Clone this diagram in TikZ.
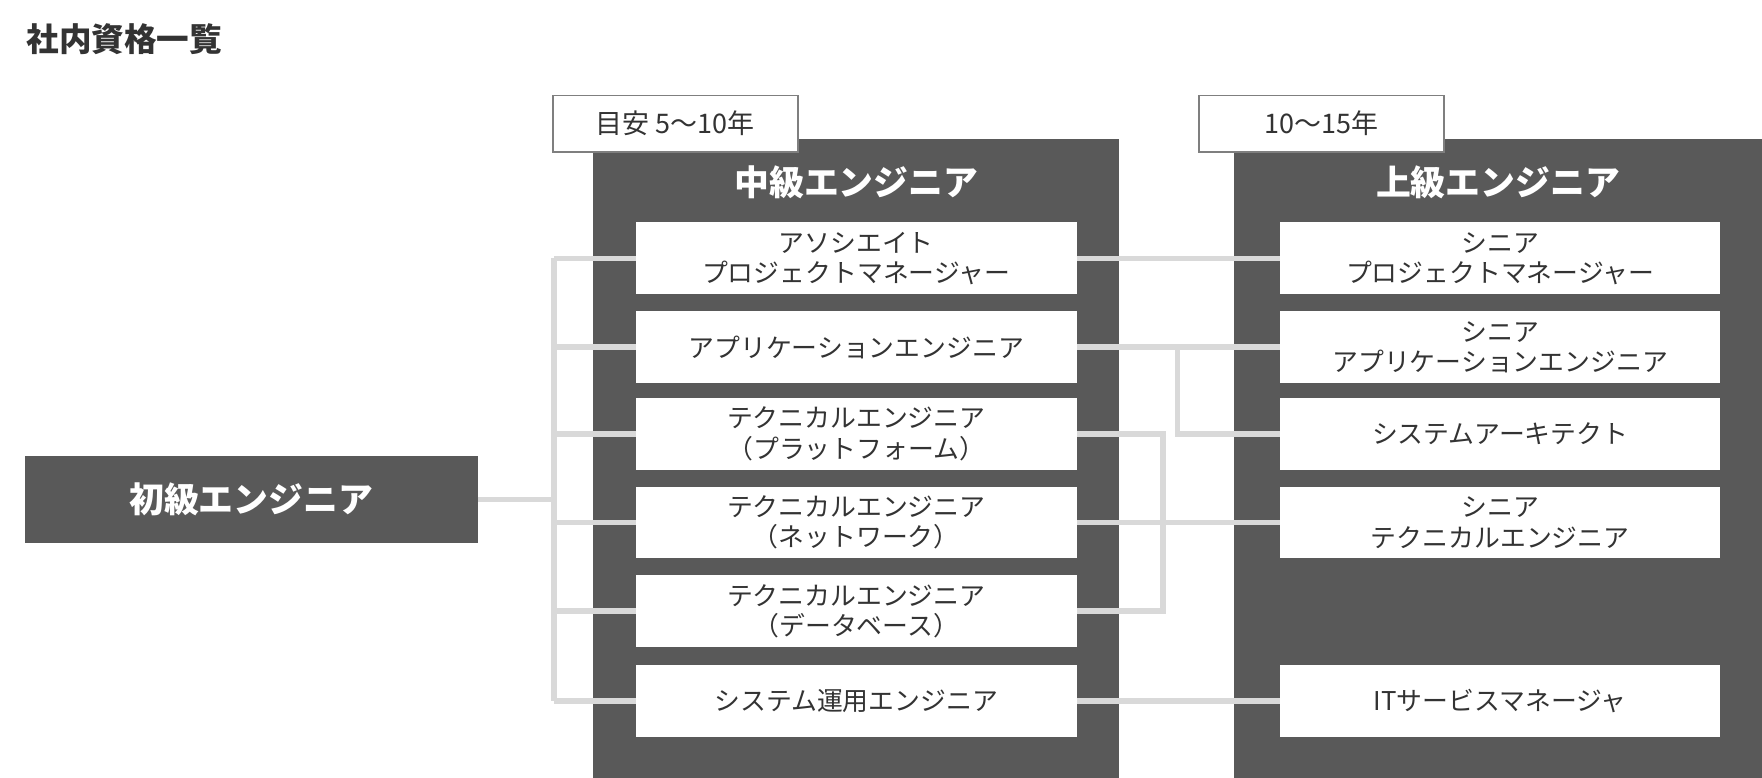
\documentclass[tikz,border=0pt]{standalone}
\usepackage{fontspec}
\setmainfont{Noto Sans CJK JP}
\usetikzlibrary{positioning,calc}
\definecolor{panelgray}{HTML}{595959}
\definecolor{textgray}{HTML}{333333}
\definecolor{linegray}{HTML}{D9D9D9}
\definecolor{taggray}{HTML}{7F7F7F}
\tikzset{
  panel/.style={fill=panelgray,draw=none,anchor=north west,inner sep=0pt},
  rolebox/.style={fill=white,draw=none,minimum width=392pt,minimum height=64pt,
    align=center,text=textgray,font=\fontsize{23}{27}\selectfont,inner sep=0pt},
  tagbox/.style={fill=white,draw=taggray,line width=1.5pt,minimum width=218pt,
    minimum height=50pt,text=textgray,font=\fontsize{24}{28}\selectfont,inner sep=0pt},
  header/.style={text=white,font=\bfseries\fontsize{31}{36}\selectfont},
  link/.style={draw=linegray,line width=5pt}
}
\begin{document}
\begin{tikzpicture}[x=1pt,y=-1pt]
  \useasboundingbox (0,0) rectangle (1568,692);
  % title
  \node[anchor=west,text=textgray,font=\bfseries\fontsize{29}{34}\selectfont] (title) at (20,35) {社内資格一覧};

  % panels
  \fill[panelgray] (528,124) rectangle (996,692);
  \fill[panelgray] (1098,124) rectangle (1568,692);
  \node[header] (midhead) at (762,162) {中級エンジニア};
  \node[header] (tophead) at (1333,162) {上級エンジニア};
  \node[tagbox] (midtag) at (601,110) {目安 5〜10年};
  \node[tagbox] (toptag) at (1176,110) {10〜15年};

  % junior
  \node[fill=panelgray,minimum width=403pt,minimum height=77pt,inner sep=0pt,
    text=white,font=\bfseries\fontsize{31}{36}\selectfont] (junior) at (223.5,444.5) {初級エンジニア};

  % middle roles
  \node[rolebox] (m1) at (762,230) {アソシエイト\\プロジェクトマネージャー};
  \node[rolebox] (m2) at (762,309) {アプリケーションエンジニア};
  \node[rolebox] (m3) at (762,386) {テクニカルエンジニア\\（プラットフォーム）};
  \node[rolebox] (m4) at (762,465) {テクニカルエンジニア\\（ネットワーク）};
  \node[rolebox] (m5) at (762,544) {テクニカルエンジニア\\（データベース）};
  \node[rolebox] (m6) at (762,624) {システム運用エンジニア};

  % senior roles
  \node[rolebox] (s1) at (1335,230) {シニア\\プロジェクトマネージャー};
  \node[rolebox] (s2) at (1335,309) {シニア\\アプリケーションエンジニア};
  \node[rolebox] (s3) at (1335,386) {システムアーキテクト};
  \node[rolebox] (s4) at (1335,465) {シニア\\テクニカルエンジニア};
  \node[rolebox] (s6) at (1335,624) {ITサービスマネージャ};

  % links junior -> middle
  \coordinate (jx) at (493,444.5);
  \draw[link] (junior.east) -- (jx);
  \draw[link] (m1.west -| jx) -- (m6.west -| jx);
  \foreach \m in {m1,m2,m3,m4,m5,m6}
    \draw[link] (\m.west -| jx) -- (\m.west);

  % links middle -> senior
  \draw[link] (m1.east) -- (s1.west);
  \draw[link] (m2.east) -- (s2.west);
  \coordinate (ax) at (1048,309);
  \draw[link] (ax) |- (s3.west);
  \coordinate (tx) at (1035,386);
  \draw[link] (m3.east) -- (tx) |- (m5.east);
  \draw[link] (m4.east) -- (s4.west);
  \draw[link] (m6.east) -- (s6.west);
\end{tikzpicture}
\end{document}
